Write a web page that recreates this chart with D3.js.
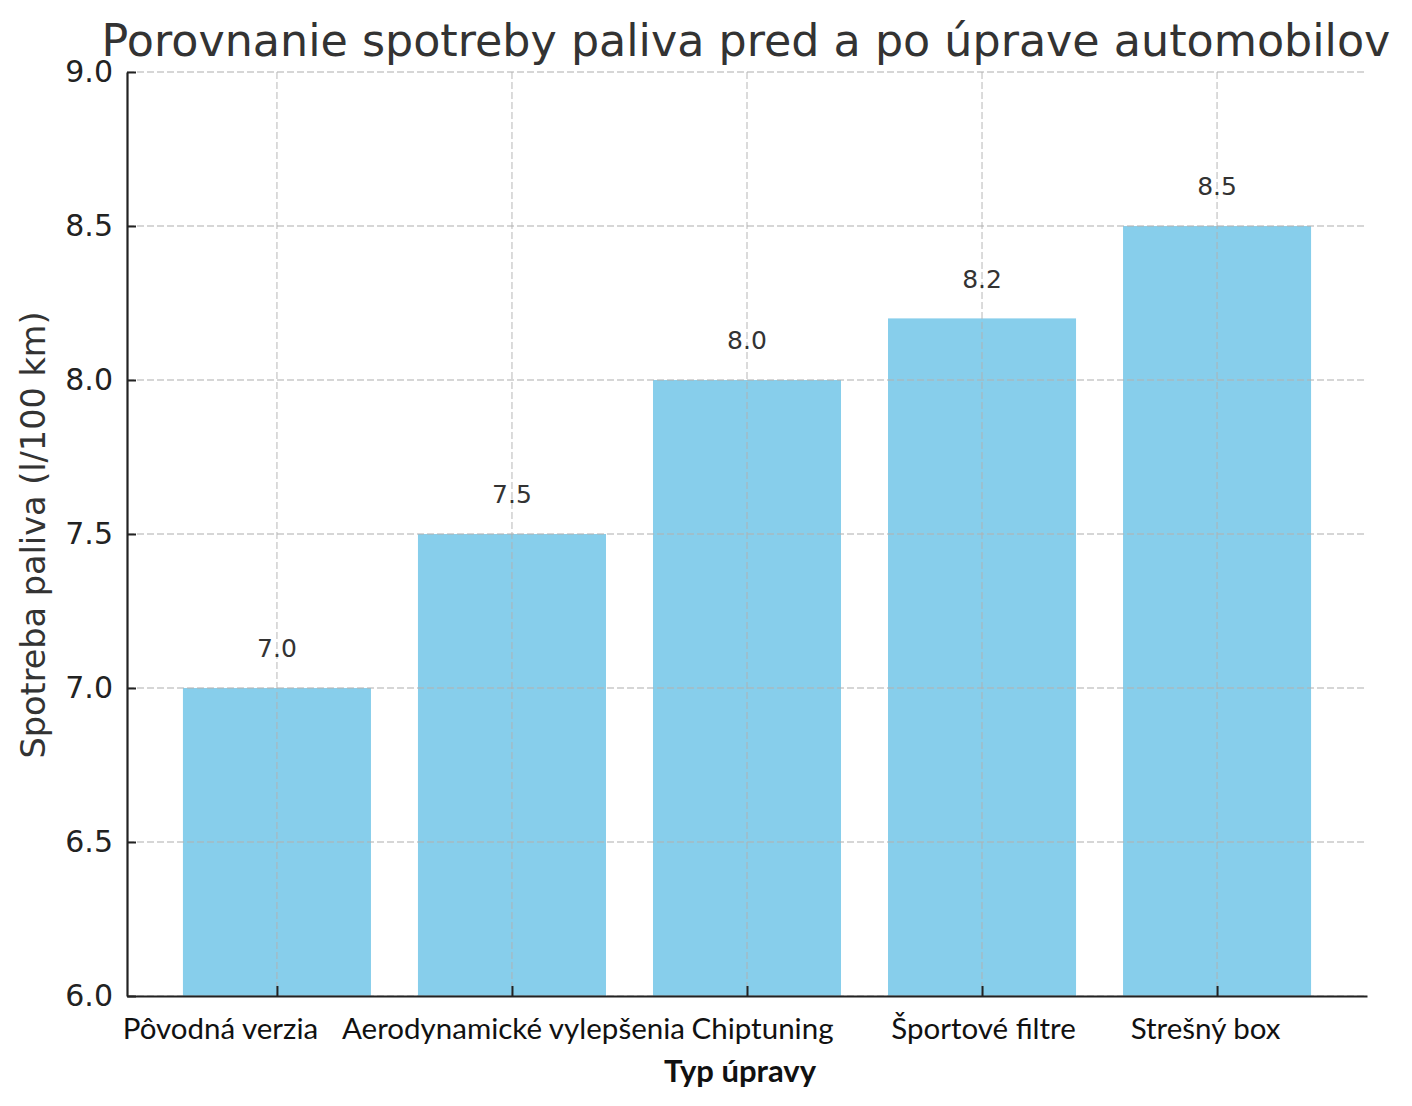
<!DOCTYPE html>
<html>
<head>
<meta charset="utf-8">
<script src="https://cdn.jsdelivr.net/npm/d3@7"></script>
<style>
  body { margin: 0; background: #fff; }
  svg { display: block; }
</style>
</head>
<body>
<svg id="chart" width="1412" height="1106"></svg>
<script>
const categories = ['Pôvodná verzia', 'Aerodynamické vylepšenia', 'Chiptuning', 'Športové filtre', 'Strešný box'];
const consumption = [7.0, 7.5, 8.0, 8.2, 8.5];
const yTicks = [6.0, 6.5, 7.0, 7.5, 8.0, 8.5, 9.0];

const titleText = 'Porovnanie spotreby paliva pred a po úprave automobilov';
const xLabel = 'Typ úpravy';
const yLabel = 'Spotreba paliva (l/100 km)';

const margin = { top: 72, right: 45, bottom: 110, left: 127 };
const width = 1412, height = 1106;
const innerW = width - margin.left - margin.right;
const innerH = height - margin.top - margin.bottom;

// the original tick labels sit a bit off their ticks, nudge them the same way
const labelNudge = [-57, 1, 15, 1, -12];

const svg = d3.select('#chart');
const g = svg.append('g').attr('transform', `translate(${margin.left},${margin.top})`);

// bar centers at index, with ~0.64 step margin on both sides
const x = d3.scaleLinear()
    .domain([-0.638, categories.length - 1 + 0.638])
    .range([0, innerW]);
const barW = x(0.8) - x(0);

const y = d3.scaleLinear().domain([6, 9]).range([innerH, 0]);

// bars
g.selectAll('rect.bar')
    .data(consumption)
    .join('rect')
    .attr('class', 'bar')
    .attr('x', (d, i) => x(i) - barW / 2)
    .attr('y', d => y(d))
    .attr('width', barW)
    .attr('height', d => innerH - y(d))
    .attr('fill', '#87CEEB');

// grid on top of bars
const grid = g.append('g').attr('stroke', '#b0b0b0').attr('stroke-opacity', 0.7)
    .attr('stroke-width', 1.3).attr('stroke-dasharray', '7,3');
grid.selectAll('line.h').data(yTicks).join('line')
    .attr('x1', 0).attr('x2', innerW)
    .attr('y1', d => y(d)).attr('y2', d => y(d));
grid.selectAll('line.v').data(categories).join('line')
    .attr('y1', 0).attr('y2', innerH)
    .attr('x1', (d, i) => x(i)).attr('x2', (d, i) => x(i));

// value labels
g.selectAll('text.val')
    .data(consumption)
    .join('text')
    .attr('x', (d, i) => x(i))
    .attr('y', d => y(d + 0.1))
    .attr('text-anchor', 'middle')
    .attr('font-family', 'DejaVu Sans')
    .attr('font-size', 25)
    .attr('fill', '#333')
    .text(d => d.toFixed(1));

// y axis
const yAxis = g.append('g')
    .call(d3.axisLeft(y).tickValues(yTicks).tickFormat(d3.format('.1f')).tickSizeInner(-9).tickSizeOuter(0).tickPadding(14));
yAxis.select('.domain').attr('stroke', '#222').attr('stroke-width', 2.2);
yAxis.selectAll('.tick line').attr('stroke', '#222').attr('stroke-width', 2);
yAxis.selectAll('.tick text')
    .attr('font-family', 'DejaVu Sans').attr('font-size', 30).attr('fill', '#222');

// x axis
const xAxis = g.append('g').attr('transform', `translate(0,${innerH})`)
    .call(d3.axisBottom(x).tickValues(d3.range(categories.length))
        .tickFormat(i => categories[i]).tickSizeInner(-10).tickSizeOuter(0).tickPadding(22));
xAxis.select('.domain').attr('stroke', '#222').attr('stroke-width', 2.2);
xAxis.selectAll('.tick line').attr('stroke', '#222').attr('stroke-width', 2);
xAxis.selectAll('.tick text')
    .attr('dx', i => labelNudge[i])
    .attr('font-family', 'Lato').attr('font-size', 29.5).attr('fill', '#111');

// title
svg.append('text')
    .attr('x', 746).attr('y', 56)
    .attr('text-anchor', 'middle')
    .attr('font-family', 'DejaVu Sans')
    .attr('font-size', 44.4)
    .attr('fill', '#333')
    .text(titleText);

// axis labels
svg.append('text')
    .attr('x', margin.left + x(2) - 7).attr('y', 1082)
    .attr('text-anchor', 'middle')
    .attr('font-family', 'Lato').attr('font-weight', 'bold')
    .attr('font-size', 31).attr('fill', '#111')
    .text(xLabel);

svg.append('text')
    .attr('transform', `translate(45,${535}) rotate(-90)`)
    .attr('text-anchor', 'middle')
    .attr('font-family', 'DejaVu Sans')
    .attr('font-size', 33.5).attr('fill', '#333')
    .text(yLabel);
</script>
</body>
</html>
